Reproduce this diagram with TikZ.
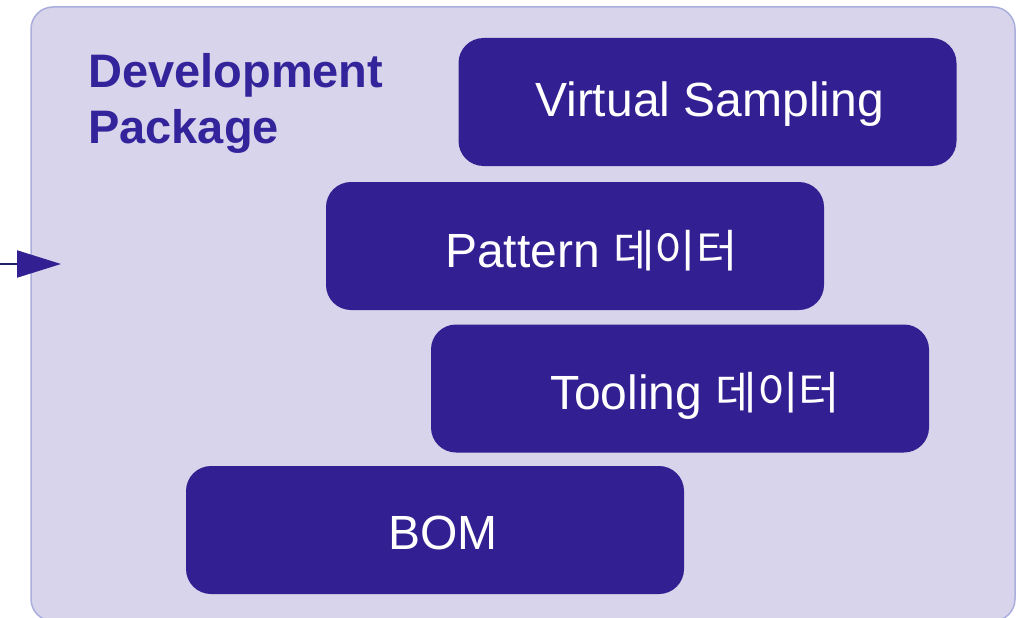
\documentclass[tikz,border=0pt]{standalone}
\usepackage{fontspec}
\setmainfont{Liberation Sans}
\newfontfamily\kr{Noto Sans CJK KR}
\usetikzlibrary{arrows.meta}
\definecolor{boxfill}{RGB}{50,32,147}
\definecolor{pkgfill}{RGB}{216,212,235}
\definecolor{pkgline}{RGB}{170,174,220}
\definecolor{titlecol}{RGB}{52,36,155}
\definecolor{arrline}{RGB}{35,33,100}
\tikzset{
  pkgbox/.style={draw=pkgline, line width=1.5pt, fill=pkgfill, rounded corners=22pt,
    minimum width=984pt, minimum height=614pt, inner sep=0pt},
  itembox/.style={fill=boxfill, draw=none, rounded corners=25pt,
    minimum width=498pt, minimum height=128pt, inner sep=0pt},
  itemtext/.style={anchor=base west, inner sep=0pt, text=white,
    font=\fontsize{48}{56}\selectfont},
  titletext/.style={anchor=base west, inner sep=0pt, text=titlecol, align=left,
    font=\fontsize{47}{56}\selectfont\bfseries}
}
\newcommand{\hg}[1]{{\fontsize{45}{56}\selectfont\kr #1}}
\begin{document}
\begin{tikzpicture}[x=1pt,y=-1pt]
\useasboundingbox (0,0) rectangle (1031,618);
\node[pkgbox] (pkg) at (523,314) {};
\node[titletext] (title) at (88,143) {Development\\Package};
\node[itembox] (vs) at (707.5,102) {};
\node[itembox] (pat) at (575,246) {};
\node[itembox] (tool) at (680,388.5) {};
\node[itembox] (bom) at (435,530) {};
\node[itemtext] (vst) at (535,117) {Virtual Sampling};
\node[itemtext] (patt) at (445,267) {Pattern \hg{데이터}};
\node[itemtext] (toolt) at (550,409) {Tooling \hg{데이터}};
\node[itemtext] (bomt) at (388,549) {BOM};
\coordinate (src) at (0,264);
\coordinate (tip) at (61,264);
\draw[arrline, line width=2pt, -{Triangle[length=44pt,width=27pt,color=boxfill]}] (src) -- (tip);
\end{tikzpicture}
\end{document}
